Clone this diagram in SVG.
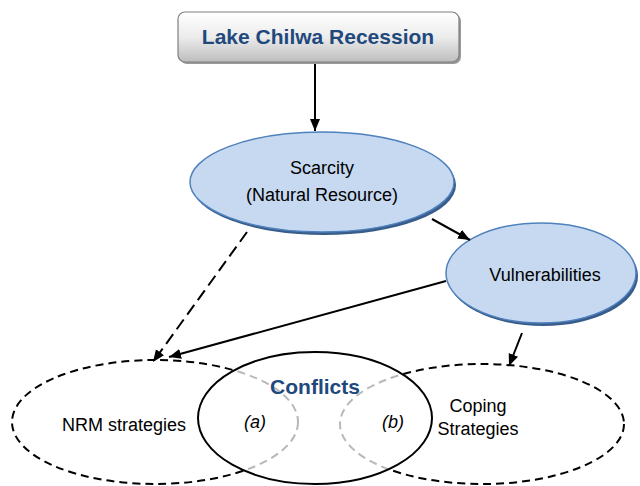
<svg xmlns="http://www.w3.org/2000/svg" width="640" height="486" viewBox="0 0 640 486">
<defs>
<linearGradient id="boxg" x1="0" y1="0" x2="0" y2="1">
<stop offset="0" stop-color="#ffffff"/>
<stop offset="0.5" stop-color="#ececec"/>
<stop offset="1" stop-color="#bdbdbd"/>
</linearGradient>
<marker id="ah" markerUnits="userSpaceOnUse" markerWidth="14" markerHeight="12" refX="12" refY="5" orient="auto">
<path d="M0,0 L12,5 L0,10 Z" fill="#000"/>
</marker>
</defs>
<style>
.lbl{font-family:"Liberation Sans",Arial,sans-serif;font-size:18px;fill:#000;text-anchor:middle}
.blue{font-family:"Liberation Sans",Arial,sans-serif;font-weight:bold;fill:#1f497d;text-anchor:middle}
.oval{fill:#c6d9f1;stroke:#4f81bd;stroke-width:1.5}
.shadow{fill:#385d8a}
.conn{stroke:#000;stroke-width:2;fill:none;marker-end:url(#ah)}
.dash{stroke:#000;stroke-width:2;fill:none;stroke-dasharray:8 5}
</style>
<rect width="640" height="486" fill="#fff"/>
<g id="nrm">
<ellipse cx="155" cy="422" rx="143" ry="62" class="dash"/>
<text x="124" y="431" class="lbl">NRM strategies</text>
</g>
<g id="coping">
<ellipse cx="482" cy="424" rx="142" ry="60" class="dash"/>
<text x="478" y="412" class="lbl">Coping</text>
<text x="478" y="435" class="lbl">Strategies</text>
</g>
<g id="conflicts">
<ellipse cx="315" cy="418" rx="117" ry="66" fill="#fff" fill-opacity="0.72" stroke="#000" stroke-width="2"/>
<text x="315" y="394" class="blue" style="font-size:21px">Conflicts</text>
<text x="255" y="428" class="lbl" style="font-style:italic">(a)</text>
<text x="393" y="428" class="lbl" style="font-style:italic">(b)</text>
</g>
<g id="lake">
<rect x="180" y="14" width="281" height="50" rx="7" fill="#9a9a9a"/>
<rect x="178" y="12" width="281" height="50" rx="7" fill="url(#boxg)" stroke="#7f7f7f" stroke-width="1.2"/>
<text x="318" y="44" class="blue" style="font-size:21px">Lake Chilwa Recession</text>
</g>
<g id="scarcity">
<ellipse cx="324" cy="185" rx="132" ry="50" class="shadow"/>
<ellipse cx="322" cy="182" rx="132" ry="50" class="oval"/>
<text x="322" y="174" class="lbl">Scarcity</text>
<text x="322" y="201" class="lbl">(Natural Resource)</text>
</g>
<g id="vulnerabilities">
<ellipse cx="543" cy="276" rx="95" ry="50" class="shadow"/>
<ellipse cx="541" cy="273" rx="95" ry="50" class="oval"/>
<text x="545" y="281" class="lbl">Vulnerabilities</text>
</g>
<g id="connectors">
<line x1="315" y1="64" x2="315" y2="131" class="conn"/>
<line x1="432" y1="219" x2="470" y2="240" class="conn"/>
<line x1="247" y1="232" x2="153" y2="362" class="conn" stroke-dasharray="12 6"/>
<line x1="446" y1="281" x2="169" y2="357" class="conn"/>
<line x1="522" y1="333" x2="509" y2="366" class="conn"/>
</g>
</svg>
